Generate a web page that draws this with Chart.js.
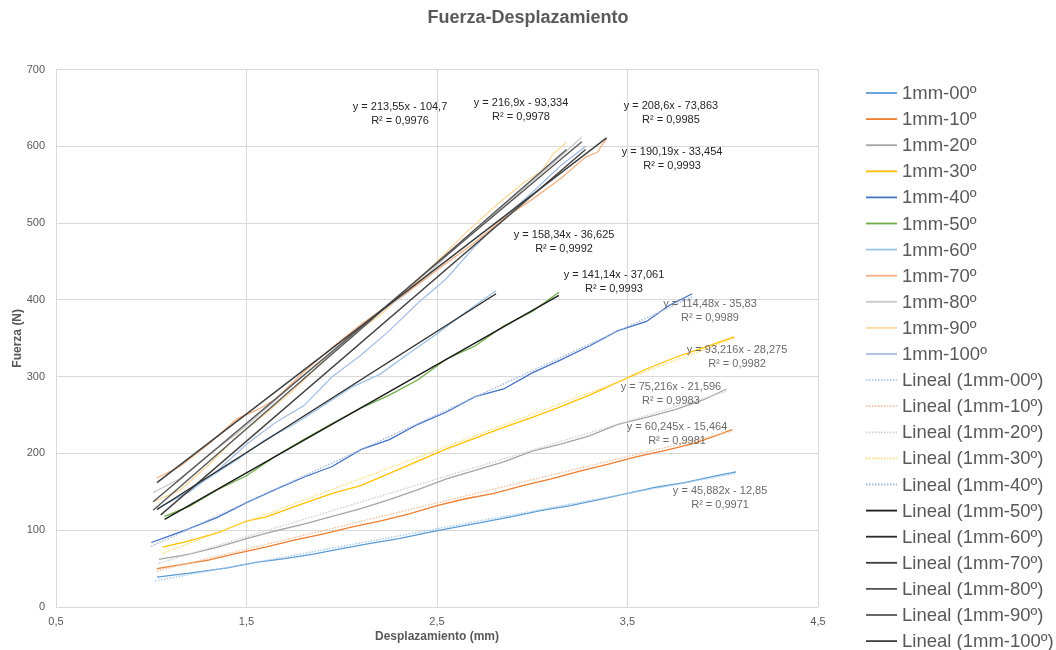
<!DOCTYPE html>
<html><head><meta charset="utf-8">
<script src="https://cdn.jsdelivr.net/npm/chart.js@4/dist/chart.umd.min.js"></script>
<style>html,body{margin:0;padding:0;background:#fff;overflow:hidden}</style>
</head><body>
<canvas id="c" width="1056" height="650"></canvas>
<script>
// ---------- DATA ----------
const seriesNames = ['1mm-00º','1mm-10º','1mm-20º','1mm-30º','1mm-40º','1mm-50º','1mm-60º','1mm-70º','1mm-80º','1mm-90º','1mm-100º'];

const x00 = [1.03,1.2,1.4,1.55,1.7,1.85,2.0,2.15,2.3,2.45,2.6,2.75,2.9,3.05,3.2,3.35,3.5,3.65,3.8,3.95,4.07];
const f00 = [39,44,51,58,63,69,76,83,89,97,104,111,118,126,132,140,148,156,162,170,176];

const x10 = [1.03,1.15,1.3,1.45,1.6,1.75,1.9,2.05,2.2,2.35,2.5,2.65,2.8,2.95,3.1,3.25,3.4,3.55,3.7,3.85,3.95,4.05];
const f10 = [50,55,61,70,78,87,95,104,112,121,132,141,148,158,167,177,186,196,204,213,222,231];

const x20 = [1.04,1.2,1.35,1.5,1.65,1.8,1.95,2.1,2.25,2.4,2.55,2.7,2.85,3.0,3.15,3.3,3.45,3.6,3.75,3.9,4.02];
const f20 = [62,69,78,89,99,108,118,128,140,153,167,178,189,203,212,223,238,247,257,270,284];

const x30 = [1.06,1.2,1.35,1.5,1.6,1.8,1.95,2.1,2.25,2.4,2.55,2.7,2.85,3.0,3.15,3.3,3.45,3.6,3.75,3.9,4.06];
const f30 = [78,86,97,112,117,135,148,158,174,190,206,220,234,247,261,276,293,310,325,338,352];

const x40 = [1.0,1.1,1.2,1.35,1.5,1.65,1.8,1.95,2.1,2.25,2.4,2.55,2.7,2.85,3.0,3.15,3.3,3.45,3.6,3.72,3.84];
const f40 = [84,93,102,117,136,153,169,183,205,218,238,254,274,284,305,322,340,360,372,393,408];

const x50 = [1.07,1.2,1.35,1.5,1.65,1.8,1.95,2.1,2.25,2.4,2.55,2.7,2.85,3.0,3.14];
const f50 = [118,131,153,171,196,218,239,259,276,296,323,340,366,385,410];

const x60 = [1.03,1.15,1.3,1.45,1.6,1.75,1.9,2.05,2.2,2.35,2.5,2.65,2.81];
const f60 = [128,144,168,192,218,238,262,286,303,330,356,384,412];

const x70 = [1.03,1.15,1.3,1.45,1.55,1.65,1.8,1.95,2.1,2.25,2.4,2.55,2.7,2.85,3.0,3.15,3.28,3.34,3.39];
const f70 = [168,183,212,245,256,270,306,338,368,394,420,448,475,506,531,558,586,592,610];

const x80 = [1.01,1.15,1.3,1.45,1.6,1.75,1.9,2.05,2.2,2.35,2.5,2.65,2.8,2.95,3.1,3.26];
const f80 = [149,167,198,226,258,291,322,350,384,410,445,480,512,544,576,612];

const x90 = [1.01,1.15,1.3,1.45,1.6,1.75,1.9,2.05,2.2,2.35,2.5,2.65,2.8,2.95,3.05,3.11,3.18];
const f90 = [137,152,185,222,252,283,320,353,380,413,450,487,521,552,568,590,605];

const x100 = [1.05,1.2,1.35,1.5,1.65,1.8,1.95,2.1,2.25,2.4,2.55,2.7,2.85,3.0,3.15,3.28];
const f100 = [131,150,178,212,240,262,300,328,360,396,428,470,507,540,575,600];

// trendline end points [x0, y0, x1, y1] as drawn
const trendEnds = [
  [1.02,34,4.07,174],
  [1.03,47,4.05,229],
  [1.04,57,4.02,281],
  [1.06,70,4.06,350],
  [1.00,79,3.84,404],
  [1.07,114,3.14,406],
  [1.03,127,2.81,408],
  [1.03,162,3.39,611],
  [1.01,137,3.26,606],
  [1.01,126,3.18,596],
  [1.05,120,3.28,596]
];
// trendline equation labels
const slopes     = ['45,882','60,245','75,216','93,216','114,48','141,14','158,34','190,19','208,6','216,9','213,55'];
const intercepts = ['12,85','15,464','21,596','28,275','35,83','37,061','36,625','33,454','73,863','93,334','104,7'];
const r2Values   = ['0,9971','0,9981','0,9983','0,9982','0,9989','0,9993','0,9992','0,9993','0,9985','0,9978','0,9976'];

const xTicks = [0.5,1.5,2.5,3.5,4.5];
const yTicks = [0,100,200,300,400,500,600,700];

// ---------- STYLE ----------
const seriesColors = ['#5B9BD5','#ED7D31','#A5A5A5','#FFC000','#4472C4','#70AD47','#9DC3E6','#F4B183','#C9C9C9','#FBD9A0','#A9BEE4'];
const trendColors  = ['#A9CBEA','#F6C09E','#CFCFCF','#FFDB7A','#A3B9E2','#1a1a1a','#2b2b2b','#3d3d3d','#555555','#595959','#404040'];
const trendDotted  = [true,true,true,true,true,false,false,false,false,false,false];
// label anchors in data coordinates (centre of first line)
const labelAt = [[3.986,151],[3.76,235],[3.728,287],[4.075,335],[3.933,395],[3.429,433],[3.167,484],[3.734,593],[3.728,653],[2.941,657],[2.306,651]];
const labelDark = [false,false,false,false,false,true,true,true,true,true,true];

const xs = [x00,x10,x20,x30,x40,x50,x60,x70,x80,x90,x100];
const fs = [f00,f10,f20,f30,f40,f50,f60,f70,f80,f90,f100];

const datasets = [];
seriesNames.forEach((n, i) => {
  datasets.push({
    label: n,
    data: xs[i].map((x, k) => ({x: x, y: fs[i][k]})),
    borderColor: seriesColors[i], backgroundColor: seriesColors[i],
    borderWidth: 1.3, pointRadius: 0, tension: 0, order: 2
  });
});
seriesNames.forEach((n, i) => {
  const t = trendEnds[i];
  datasets.push({
    label: 'Lineal (' + n + ')',
    data: [{x: t[0], y: t[1]}, {x: t[2], y: t[3]}],
    borderColor: trendColors[i], backgroundColor: trendColors[i],
    borderWidth: 1.4,
    borderDash: trendDotted[i] ? [1.5, 1.5] : [],
    pointRadius: 0, tension: 0, order: 1
  });
});

const FONT = '"Liberation Sans", Arial, sans-serif';

const sideLegend = {
  id: 'sideLegend',
  afterDraw(chart) {
    const ctx = chart.ctx;
    ctx.save();
    ctx.font = '18.5px ' + FONT;
    ctx.textBaseline = 'middle';
    chart.data.datasets.forEach((d, i) => {
      const y = 93 + i * 26.1;
      ctx.beginPath();
      ctx.setLineDash(d.borderDash || []);
      ctx.strokeStyle = d.borderColor;
      ctx.lineWidth = 1.8;
      ctx.moveTo(866, y); ctx.lineTo(897, y); ctx.stroke();
      ctx.setLineDash([]);
      ctx.fillStyle = '#595959';
      ctx.fillText(d.label, 902, y + 1);
    });
    ctx.restore();
  }
};

const trendLabels = {
  id: 'trendLabels',
  afterDatasetsDraw(chart) {
    const ctx = chart.ctx, sx = chart.scales.x, sy = chart.scales.y;
    ctx.save();
    ctx.font = '11px ' + FONT;
    ctx.textAlign = 'center';
    ctx.textBaseline = 'middle';
    labelAt.forEach((p, i) => {
      const px = sx.getPixelForValue(p[0]);
      const py = sy.getPixelForValue(p[1]);
      ctx.fillStyle = labelDark[i] ? '#262626' : '#6b6b6b';
      ctx.fillText('y = ' + slopes[i] + 'x - ' + intercepts[i], px, py);
      ctx.fillText('R² = ' + r2Values[i], px, py + 14);
    });
    ctx.restore();
  }
};

new Chart(document.getElementById('c'), {
  type: 'line',
  data: { datasets: datasets },
  plugins: [trendLabels, sideLegend],
  options: {
    responsive: false,
    animation: false,
    layout: { padding: 0 },
    plugins: {
      legend: { display: false },
      tooltip: { enabled: false },
      title: {
        display: true, text: 'Fuerza-Desplazamiento', color: '#595959',
        font: { family: FONT, size: 18, weight: 'bold' },
        padding: { top: 7, bottom: 41 }
      }
    },
    scales: {
      x: {
        type: 'linear', position: 'bottom', min: 0.5, max: 4.5,
        afterBuildTicks: s => { s.ticks = xTicks.map(v => ({value: v})); },
        afterFit: s => { s.height = 43; },
        grid: { color: '#D9D9D9', drawTicks: false },
        border: { display: false },
        ticks: { color: '#595959', padding: 8, font: { family: FONT, size: 11 },
                 callback: v => String(v).replace('.', ',') },
        title: { display: true, text: 'Desplazamiento (mm)', color: '#595959',
                 font: { family: FONT, size: 12, weight: 'bold' }, padding: { top: 0, bottom: 6 } }
      },
      y: {
        type: 'linear', position: 'left', min: 0, max: 700,
        afterBuildTicks: s => { s.ticks = yTicks.map(v => ({value: v})); },
        afterFit: s => { s.width = 56; },
        grid: { color: '#D9D9D9', drawTicks: false },
        border: { display: false },
        ticks: { color: '#595959', padding: 11, font: { family: FONT, size: 11 } },
        title: { display: true, text: 'Fuerza (N)', color: '#595959',
                 font: { family: FONT, size: 12, weight: 'bold' }, padding: { top: 10, bottom: 0 } }
      },
      spacer: {
        type: 'linear', position: 'right', display: true,
        afterFit: s => { s.width = 238; },
        grid: { display: false, drawTicks: false },
        border: { display: false },
        ticks: { display: false }
      }
    }
  }
});
</script>
</body></html>
